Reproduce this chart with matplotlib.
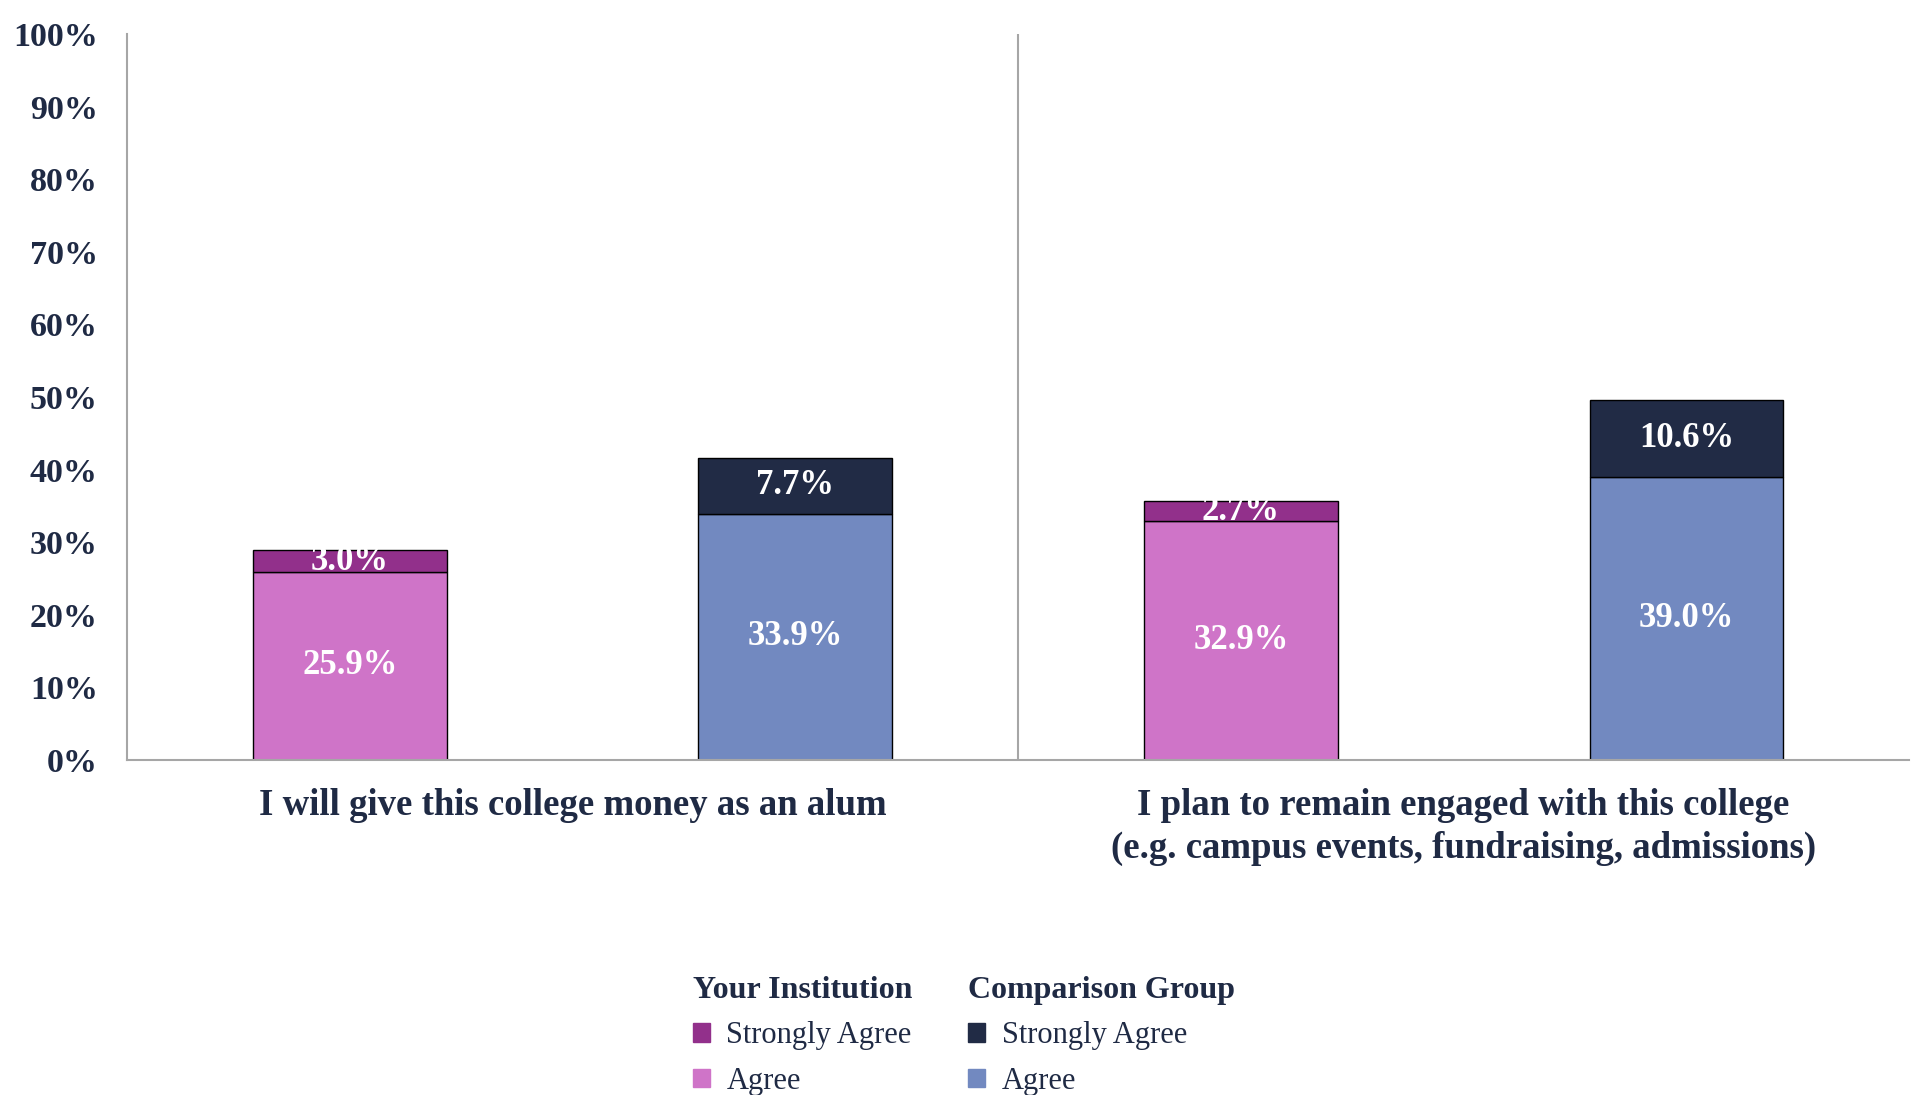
import matplotlib.pyplot as plt
from matplotlib.patches import Patch

plt.rcParams['font.family'] = ['Liberation Serif', 'DejaVu Serif']

questions = ['I will give this college money as an alum',
             'I plan to remain engaged with this college\n(e.g. campus events, fundraising, admissions)']
inst_agree = [25.9, 32.9]
inst_strong = [3.0, 2.7]
comp_agree = [33.9, 39.0]
comp_strong = [7.7, 10.6]

navy = '#1F2A44'
c_inst_strong = '#92308B'
c_inst_agree = '#CF74C8'
c_comp_strong = '#212B45'
c_comp_agree = '#7289C0'
grey = '#A6A6A6'

fig = plt.figure(figsize=(19.13, 10.95), dpi=100)
ax = fig.add_axes([0.0664, 0.306, 0.9316, 0.663])

inst_x = [0, 2]
comp_x = [1, 3]
w = 0.435

bars = []
bars.append(ax.bar(inst_x, inst_agree, w, color=c_inst_agree, edgecolor='black', linewidth=1))
bars.append(ax.bar(inst_x, inst_strong, w, bottom=inst_agree, color=c_inst_strong, edgecolor='black', linewidth=1))
bars.append(ax.bar(comp_x, comp_agree, w, color=c_comp_agree, edgecolor='black', linewidth=1))
bars.append(ax.bar(comp_x, comp_strong, w, bottom=comp_agree, color=c_comp_strong, edgecolor='black', linewidth=1))

for b in bars:
    ax.bar_label(b, labels=[f'{v:.1f}%' for v in b.datavalues], label_type='center',
                 color='white', fontsize=25, fontweight='bold')

ax.set_xlim(-0.5, 3.5)
ax.set_ylim(0, 100)
ax.axvline(1.5, color=grey, linewidth=1.5)

ax.set_yticks(range(0, 101, 10))
ax.set_yticklabels([f'{v}%' for v in range(0, 101, 10)], fontsize=24.5, fontweight='bold', color=navy)
ax.set_xticks([0.5, 2.5])
ax.set_xticklabels(questions, fontsize=26.5, fontweight='bold', color=navy, linespacing=1.3)
ax.tick_params(axis='both', length=0)
ax.tick_params(axis='y', pad=21)
ax.tick_params(axis='x', pad=20)

for s in ['top', 'right']:
    ax.spines[s].set_visible(False)
for s in ['left', 'bottom']:
    ax.spines[s].set_color(grey)
    ax.spines[s].set_linewidth(1.5)

leg_kw = dict(loc='upper left', frameon=False, alignment='left', fontsize=22,
              handlelength=0.55, handleheight=0.55, handletextpad=0.55,
              labelspacing=0.53, borderaxespad=0, borderpad=0.2, labelcolor=navy,
              title_fontproperties={'size': 23, 'weight': 'bold'})
leg1 = fig.legend(handles=[Patch(color=c_inst_strong), Patch(color=c_inst_agree)],
                  labels=['Strongly Agree', 'Agree'], title='Your Institution',
                  bbox_to_anchor=(0.359, 0.114), **leg_kw)
leg1.get_title().set_color(navy)
leg2 = fig.legend(handles=[Patch(color=c_comp_strong), Patch(color=c_comp_agree)],
                  labels=['Strongly Agree', 'Agree'], title='Comparison Group',
                  bbox_to_anchor=(0.503, 0.114), **leg_kw)
leg2.get_title().set_color(navy)

fig.savefig('out.png', dpi=100)
